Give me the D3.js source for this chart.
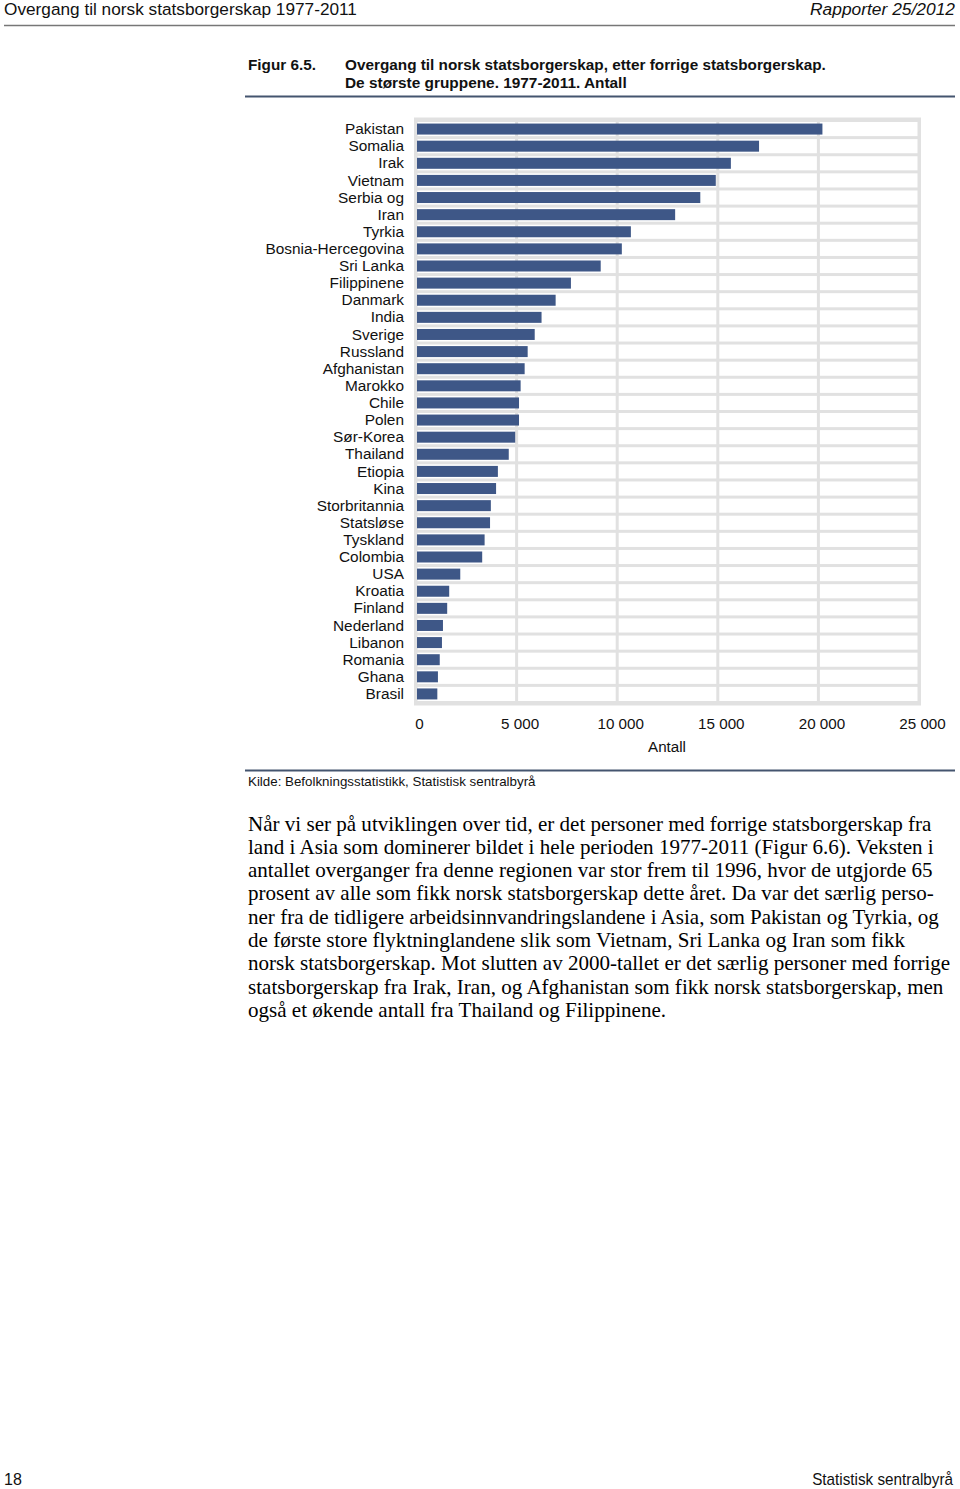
<!DOCTYPE html>
<html>
<head>
<meta charset="utf-8">
<script src="https://cdn.jsdelivr.net/npm/d3@7"></script>
<style>
  html, body { margin: 0; padding: 0; background: #fff; }
  svg { display: block; }
  text { font-family: Arial, "Liberation Sans", sans-serif; }
  .serif { font-family: "Times New Roman", "Liberation Serif", serif; }
</style>
</head>
<body>
<script>
// ---- Data ----
const categories = ["Pakistan","Somalia","Irak","Vietnam","Serbia og","Iran","Tyrkia","Bosnia-Hercegovina","Sri Lanka","Filippinene","Danmark","India","Sverige","Russland","Afghanistan","Marokko","Chile","Polen","Sør-Korea","Thailand","Etiopia","Kina","Storbritannia","Statsløse","Tyskland","Colombia","USA","Kroatia","Finland","Nederland","Libanon","Romania","Ghana","Brasil"];
const values = [20200,17050,15650,14900,14130,12880,10680,10230,9180,7700,6940,6240,5900,5550,5400,5200,5120,5120,4930,4610,4070,3980,3720,3680,3410,3290,2200,1650,1550,1340,1290,1180,1090,1060];
const tickValues = [0,5000,10000,15000,20000,25000];
const tickLabels = ["0","5 000","10 000","15 000","20 000","25 000"];
const axisTitle = "Antall";
const headerLeft = "Overgang til norsk statsborgerskap 1977-2011";
const headerRight = "Rapporter 25/2012";
const figLabel = "Figur 6.5.";
const titleLines = ["Overgang til norsk statsborgerskap, etter forrige statsborgerskap.","De største gruppene. 1977-2011. Antall"];
const sourceText = "Kilde: Befolkningsstatistikk, Statistisk sentralbyrå";
const paragraph = [
 "Når vi ser på utviklingen over tid, er det personer med forrige statsborgerskap fra",
 "land i Asia som dominerer bildet i hele perioden 1977-2011 (Figur 6.6). Veksten i",
 "antallet overganger fra denne regionen var stor frem til 1996, hvor de utgjorde 65",
 "prosent av alle som fikk norsk statsborgerskap dette året. Da var det særlig perso-",
 "ner fra de tidligere arbeidsinnvandringslandene i Asia, som Pakistan og Tyrkia, og",
 "de første store flyktninglandene slik som Vietnam, Sri Lanka og Iran som fikk",
 "norsk statsborgerskap. Mot slutten av 2000-tallet er det særlig personer med forrige",
 "statsborgerskap fra Irak, Iran, og Afghanistan som fikk norsk statsborgerskap, men",
 "også et økende antall fra Thailand og Filippinene."
];
const pageNumber = "18";
const footerRight = "Statistisk sentralbyrå";

// ---- Layout ----
const W = 960, H = 1489;
const svg = d3.select("body").append("svg").attr("width", W).attr("height", H);

// helper: horizontally scale a text to a target width
function fitX(t, target, anchorX) {
  const w = t.node().getComputedTextLength();
  const k = target / w;
  t.attr("transform", `translate(${anchorX},0) scale(${k},1) translate(${-anchorX},0)`);
}

// Header
const h1 = svg.append("text").attr("x", 4).attr("y", 15).attr("font-size", 17).attr("fill", "#111").text(headerLeft);
fitX(h1, 353, 4);
const h2 = svg.append("text").attr("x", 955).attr("y", 15).attr("font-size", 17).attr("font-style", "italic").attr("text-anchor", "end").attr("fill", "#111").text(headerRight);
fitX(h2, 145, 955);
svg.append("line").attr("x1", 4).attr("x2", 955).attr("y1", 25.5).attr("y2", 25.5).attr("stroke", "#777").attr("stroke-width", 1.5);

// Figure title
const fl = svg.append("text").attr("x", 248).attr("y", 70).attr("font-size", 15).attr("font-weight", "bold").attr("fill", "#111").text(figLabel);
fitX(fl, 68, 248);
titleLines.forEach((s, i) => {
  const t = svg.append("text").attr("x", 345).attr("y", 70 + i * 18).attr("font-size", 15).attr("font-weight", "bold").attr("fill", "#111").text(s);
  if (i === 0) fitX(t, 481, 345); else fitX(t, 282, 345);
});
svg.append("line").attr("x1", 245).attr("x2", 955).attr("y1", 96.5).attr("y2", 96.5).attr("stroke", "#44556f").attr("stroke-width", 2);

// Chart
const x = d3.scaleLinear().domain([0, 25000]).range([416, 919]);
const y = d3.scaleBand().domain(categories).range([120.5, 702.5]).padding(0);
const gridColor = "#e1e1e1";
const barColor = "#3e5787";

const g = svg.append("g");
// gray background frame
g.append("rect")
  .attr("x", x(0) - 2).attr("y", y.range()[0] - 3)
  .attr("width", x(25000) - x(0) + 4).attr("height", y.range()[1] - y.range()[0] + 6)
  .attr("fill", gridColor);

// white cells
const intervals = d3.pairs(tickValues);
categories.forEach(c => {
  g.selectAll(null).data(intervals).enter().append("rect")
    .attr("x", d => x(d[0]) + 1.5)
    .attr("width", d => x(d[1]) - x(d[0]) - 3)
    .attr("y", y(c) + 1.5)
    .attr("height", y.bandwidth() - 3)
    .attr("fill", "#fff");
});

// bars
const data = categories.map((c, i) => ({ c, v: values[i] }));
g.selectAll(".bar").data(data).enter().append("rect")
  .attr("class", "bar")
  .attr("x", x(0) + 1)
  .attr("y", d => y(d.c) + y.bandwidth() / 2 - 5.5)
  .attr("width", d => x(d.v) - x(0) - 1)
  .attr("height", 11)
  .attr("fill", barColor);

// category labels
const yAxis = d3.axisLeft(y).tickSize(0).tickPadding(0);
const ya = svg.append("g").attr("transform", `translate(404,0)`).call(yAxis);
ya.select(".domain").remove();
ya.selectAll("text").attr("font-size", 15.4).attr("font-family", "Arial, 'Liberation Sans', sans-serif").attr("fill", "#111").attr("dy", "0.33em");

// x axis labels
const xAxis = d3.axisBottom(x).tickValues(tickValues).tickFormat((d, i) => tickLabels[i]).tickSize(0).tickPadding(0);
const xa = svg.append("g").attr("transform", `translate(3,718)`).call(xAxis);
xa.select(".domain").remove();
xa.selectAll("text").attr("font-size", 15.2).attr("font-family", "Arial, 'Liberation Sans', sans-serif").attr("fill", "#111").attr("dy", "0.71em");

svg.append("text").attr("x", 667).attr("y", 752).attr("text-anchor", "middle").attr("font-size", 15.2).attr("fill", "#111").text(axisTitle);

// source rule and text
svg.append("line").attr("x1", 245).attr("x2", 955).attr("y1", 770.5).attr("y2", 770.5).attr("stroke", "#44556f").attr("stroke-width", 2);
const src = svg.append("text").attr("x", 248).attr("y", 786).attr("font-size", 13).attr("fill", "#111").text(sourceText);
fitX(src, 288, 248);

// paragraph
const pTest = svg.append("text").attr("class", "serif").attr("x", 248).attr("y", 830).attr("font-size", 21).text(paragraph[0]);
const pw = pTest.node().getComputedTextLength();
pTest.remove();
const pSize = 21 * 684 / pw;
paragraph.forEach((s, i) => {
  svg.append("text").attr("class", "serif").attr("x", 248).attr("y", 830.5 + i * 23.3)
    .attr("font-size", pSize).attr("fill", "#000").text(s);
});

// footer
svg.append("text").attr("x", 4).attr("y", 1485).attr("font-size", 16).attr("fill", "#111").text(pageNumber);
const fr = svg.append("text").attr("x", 953).attr("y", 1485).attr("font-size", 16).attr("text-anchor", "end").attr("fill", "#111").text(footerRight);
fitX(fr, 141, 953);
</script>
</body>
</html>
